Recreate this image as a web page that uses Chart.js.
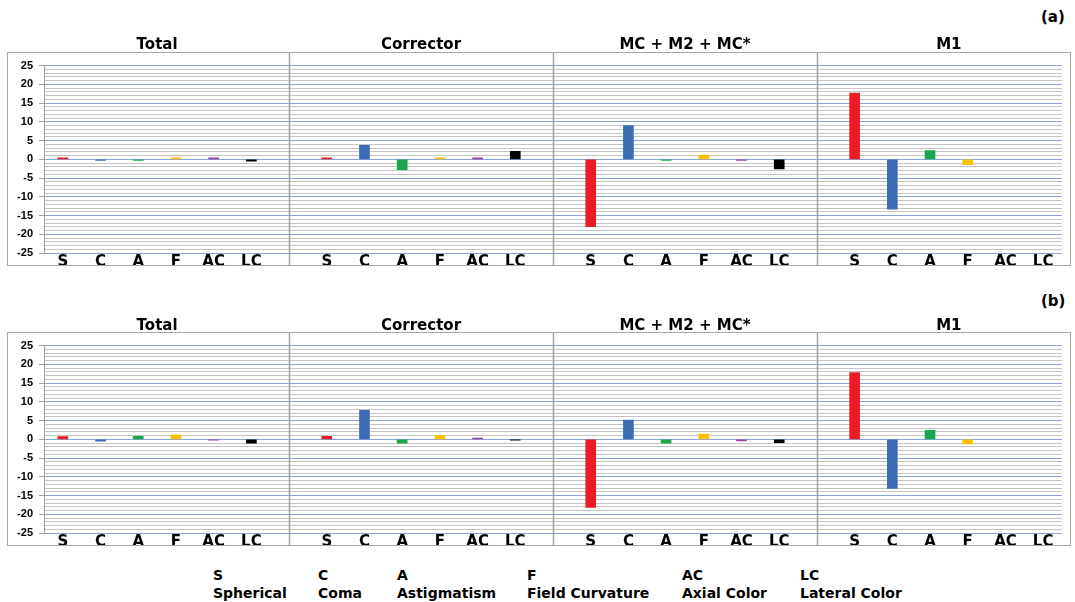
<!DOCTYPE html>
<html>
<head>
<meta charset="utf-8">
<script src="https://cdn.jsdelivr.net/npm/chart.js@4.4.1/dist/chart.umd.min.js"></script>
<style>
  body { margin: 0; background: #fff; width: 1075px; height: 602px; position: relative; overflow: hidden; }
  .box { position: absolute; left: 7px; width: 1064px; height: 214px; border: 1.5px solid #a6a6a6; box-sizing: border-box; pointer-events: none; }
  canvas { position: absolute; left: 8px; }
  .title { position: absolute; font: bold 15px "DejaVu Sans"; line-height: 15px; white-space: nowrap; transform: translateX(-50%); color: #000; }
  .tag { position: absolute; left: 1041px; font: bold 15px "DejaVu Sans"; line-height: 15px; color: #000; }
  .leg { position: absolute; font: bold 14px "DejaVu Sans"; line-height: 14px; white-space: nowrap; color: #000; }
</style>
</head>
<body>
<div class="tag" style="top:10px">(a)</div>
<div class="tag" style="top:294px">(b)</div>
<canvas id="chartA" width="1062" height="216" style="top:53px"></canvas>
<canvas id="chartB" width="1062" height="216" style="top:333px"></canvas>
<div class="box" style="top:52px"></div>
<div class="box" style="top:332px"></div>
<div id="legend"></div>

<script>
const categories = ["S", "C", "A", "F", "AC", "LC"];
const groups = ["Total", "Corrector", "MC + M2 + MC*", "M1"];
const barColors = ["#ed1c24", "#3c6db4", "#1aa64a", "#ffc000", "#9b3fa0", "#000000"];
const legendNames = ["Spherical", "Coma", "Astigmatism", "Field Curvature", "Axial Color", "Lateral Color"];

// panel (a)
const totalA = [0.4, -0.3, -0.3, 0.4, 0.4, -0.5];
const correctorA = [0.4, 3.7, -2.8, 0.4, 0.4, 2.1];
const mcA = [-18.0, 9.0, -0.3, 1.1, -0.3, -2.6];
const m1A = [17.7, -13.3, 2.3, -1.4, 0, 0];

// panel (b)
const totalB = [0.7, -0.5, 0.8, 1.2, -0.2, -1.0];
const correctorB = [0.8, 7.7, -1.0, 1.0, 0.3, -0.2];
const mcB = [-18.2, 5.1, -1.0, 1.4, -0.4, -0.9];
const m1B = [17.8, -13.1, 2.4, -1.2, 0, 0];

const yMin = -25, yMax = 25, majorStep = 5;

// one long category axis, with an empty slot between groups
function buildSeries(groupValues) {
  let labels = [], data = [], colors = [], spacers = [];
  groupValues.forEach((vals, g) => {
    vals.forEach((v, i) => {
      labels.push(categories[i]);
      data.push(v);
      colors.push(v === 0 ? "rgba(0,0,0,0)" : barColors[i]);
    });
    if (g < groupValues.length - 1) {
      spacers.push(labels.length);
      labels.push("");
      data.push(null);
      colors.push("rgba(0,0,0,0)");
    }
  });
  return { labels, data, colors, spacers };
}

const separators = {
  id: "separators",
  afterDraw(chart, args, opts) {
    const ctx = chart.ctx;
    const x = chart.scales.x;
    ctx.save();
    ctx.strokeStyle = "#a0a0a0";
    ctx.lineWidth = 1.5;
    (opts.spacers || []).forEach(i => {
      const px = Math.round(x.getPixelForValue(i)) + 0.5;
      ctx.beginPath();
      ctx.moveTo(px, 0);
      ctx.lineTo(px, 212);
      ctx.stroke();
    });
    ctx.restore();
  }
};

function makeChart(id, groupValues, titleTop) {
  const s = buildSeries(groupValues);
  const ctx = document.getElementById(id).getContext("2d");
  const chart = new Chart(ctx, {
    type: "bar",
    data: {
      labels: s.labels,
      datasets: [{
        data: s.data,
        backgroundColor: s.colors,
        borderWidth: 0,
        barThickness: 10,
      }],
    },
    options: {
      responsive: false,
      animation: false,
      devicePixelRatio: 1,
      layout: { padding: { top: 11, right: 8, left: 0, bottom: 0 } },
      plugins: {
        legend: { display: false },
        tooltip: { enabled: false },
        separators: { spacers: s.spacers },
      },
      scales: {
        x: {
          grid: { display: false, drawTicks: false },
          border: { display: false },
          ticks: {
            autoSkip: false, maxRotation: 0, padding: 0, color: "#000",
            font: { family: "DejaVu Sans", weight: "bold", size: 15 },
          },
          afterFit(scale) { scale.height = 16; },
        },
        y: {
          min: yMin, max: yMax,
          border: { display: true, color: "#a0a0a0", width: 1 },
          grid: {
            color: c => (c.tick && c.tick.value % majorStep === 0) ? "#86a4d6" : "#c4c4c4",
            tickColor: c => (c.tick && c.tick.value % majorStep === 0) ? "#a0a0a0" : "rgba(0,0,0,0)",
            tickLength: 5,
            lineWidth: 1,
          },
          ticks: {
            stepSize: 1, autoSkip: false, padding: 6, color: "#000",
            font: { family: "Liberation Sans", weight: "bold", size: 11 },
            callback: v => (v % majorStep === 0 ? v : ""),
          },
          afterFit(scale) { scale.width = 36; },
        },
      },
    },
    plugins: [separators],
  });

  // group titles centred over their six categories
  const x = chart.scales.x;
  groups.forEach((g, gi) => {
    const first = gi * (categories.length + 1);
    const cx = (x.getPixelForValue(first) + x.getPixelForValue(first + categories.length - 1)) / 2 + 8;
    const d = document.createElement("div");
    d.className = "title";
    d.textContent = g;
    d.style.left = cx + "px";
    d.style.top = titleTop + "px";
    document.body.appendChild(d);
  });
  return chart;
}

makeChart("chartA", [totalA, correctorA, mcA, m1A], 37);
makeChart("chartB", [totalB, correctorB, mcB, m1B], 318);

// key at the bottom
const legendX = [213, 318, 397, 527, 682, 800];
const legend = document.getElementById("legend");
categories.forEach((c, i) => {
  const a = document.createElement("div");
  a.className = "leg";
  a.textContent = c;
  a.style.left = legendX[i] + "px";
  a.style.top = "568px";
  legend.appendChild(a);
  const b = document.createElement("div");
  b.className = "leg";
  b.textContent = legendNames[i];
  b.style.left = legendX[i] + "px";
  b.style.top = "586px";
  legend.appendChild(b);
});
</script>
</body>
</html>
